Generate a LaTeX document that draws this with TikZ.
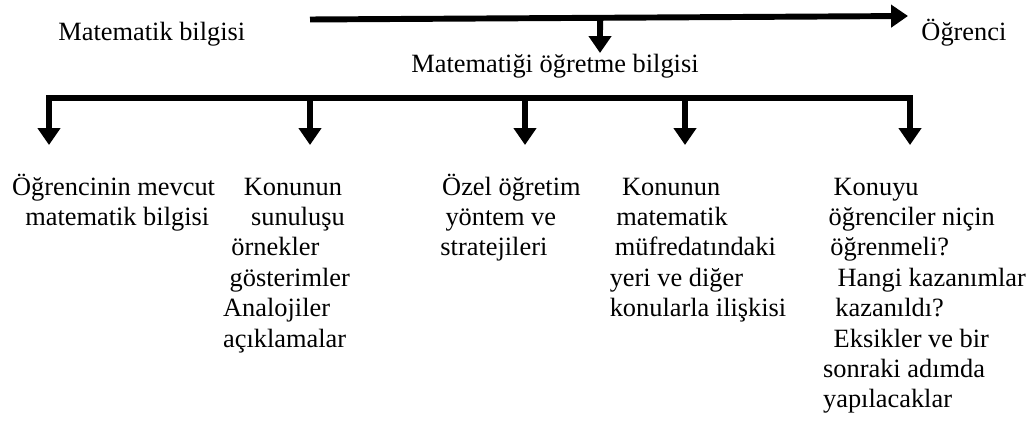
\documentclass[tikz,border=0pt]{standalone}
\usepackage{fontspec}
\setmainfont{Liberation Serif}
\usetikzlibrary{arrows.meta,calc}

\tikzset{
  bar/.style={line width=2.7pt},
  arr/.style={bar,-{Triangle[length=7.7pt,width=10pt]}},
  lbl/.style={inner sep=0pt,anchor=base west,align=left,
    font=\rmfamily\fontsize{12}{13.83}\selectfont}
}

\begin{document}
\begin{tikzpicture}[x=0.455pt,y=-0.455pt]
  \useasboundingbox (0,0) rectangle (1031,421);

  % ---- Top row: knowledge -> student ----------------------------
  \node[lbl] (matbil) at (58,40) {Matematik bilgisi};
  \node[lbl] (ogrenci) at (921,40) {Öğrenci};
  \coordinate (topl) at (310,19.5);
  \coordinate (topr) at (908,16);
  \draw[arr] (topl) -- (topr);

  % Branch down to teaching knowledge
  \coordinate (topj) at ($(topl)!0.485!(topr)$);
  \coordinate (mobtip) at (600,53);
  \draw[arr] (topj) -- (mobtip);
  \node[lbl] (mob) at (411,72) {Matematiği öğretme bilgisi};

  % ---- Distribution bar with five arrows ------------------------
  \foreach \n/\x in {1/49,2/310,3/525,4/685,5/910}{
    \coordinate (join\n) at (\x,98);
    \coordinate (tip\n) at (\x,145);
    \draw[arr] (join\n) -- (tip\n);
  }
  \draw[bar,line cap=rect] (join1) -- (join5);

  % ---- Components (anchored at the last baseline) -----------------
  \node[lbl] (comp1) at (11.7,225.4)
    {Öğrencinin mevcut\\\hspace*{6pt}matematik bilgisi};
  \node[lbl] (comp2) at (222.7,347)
    {\hspace*{9.4pt}Konunun\\\hspace*{12.7pt}sunuluşu\\
     \hspace*{3.8pt}örnekler\\\hspace*{3pt}gösterimler\\
     Analojiler\\açıklamalar};
  \node[lbl] (comp3) at (440,255.8)
    {\hspace*{0.8pt}Özel öğretim\\\hspace*{2.3pt}yöntem ve\\stratejileri};
  \node[lbl] (comp4) at (609.3,316.6)
    {\hspace*{5.6pt}Konunun\\\hspace*{3pt}matematik\\
     \hspace*{2.3pt}müfredatındaki\\yeri ve diğer\\konularla ilişkisi};
  \node[lbl] (comp5) at (822.7,407.8)
    {\hspace*{4.8pt}Konuyu\\\hspace*{2.5pt}öğrenciler niçin\\
     \hspace*{3.3pt}öğrenmeli?\\\hspace*{6.6pt}Hangi kazanımlar\\
     \hspace*{5.6pt}kazanıldı?\\\hspace*{4.8pt}Eksikler ve bir\\
     sonraki adımda\\yapılacaklar};

\end{tikzpicture}
\end{document}
